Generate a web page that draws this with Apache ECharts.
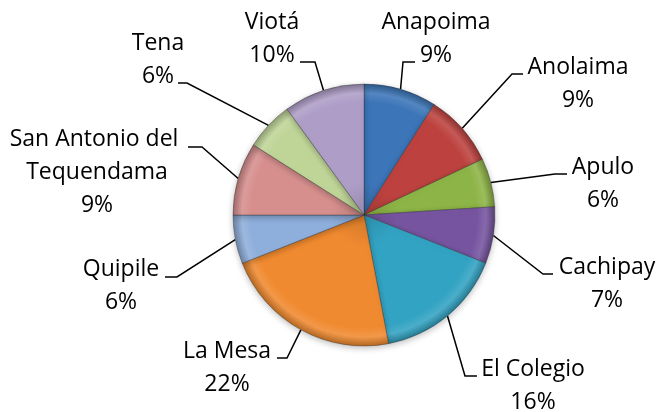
<!DOCTYPE html>
<html>
<head>
<meta charset="utf-8">
<script src="https://cdn.jsdelivr.net/npm/echarts@6/dist/echarts.min.js"></script>
<style>
html,body{margin:0;padding:0;background:#fff;}
#chart{width:656px;height:412px;}
</style>
</head>
<body>
<div id="chart"></div>
<script>
// ---- data ----
var categories = ['Anapoima', 'Anolaima', 'Apulo', 'Cachipay', 'El Colegio', 'La Mesa', 'Quipile', 'San Antonio del Tequendama', 'Tena', 'Viotá'];
var percents = [9, 9, 6, 7, 16, 22, 6, 9, 6, 10];

// ---- styles / layout ----
var sliceColors = ['#3C75B8', '#BD423F', '#8DB446', '#7654A0', '#33A3C3', '#F08A30', '#8EAEDB', '#D68F8D', '#BFD598', '#AE9DC7'];
var PIE_CX = 364, PIE_CY = 215, PIE_R = 131;
// label block centre (tx,ty), leader bend (bx,by) and leader end (ex,ey)
var labelPlacement = [
  {tx: 436, ty: 39,  bx: 403, by: 62,  ex: 415, ey: 62},
  {tx: 578, ty: 84,  bx: 512, by: 74,  ex: 523, ey: 74},
  {tx: 603, ty: 184, bx: 555, by: 174, ex: 567, ey: 174},
  {tx: 607, ty: 284, bx: 543, by: 274, ex: 553, ey: 274},
  {tx: 533, ty: 386, bx: 465, by: 376, ex: 477, ey: 376},
  {tx: 227, ty: 368, bx: 287, by: 358, ex: 277, ey: 358},
  {tx: 121, ty: 286, bx: 177, by: 277, ex: 165, ey: 277},
  {tx: 97,  ty: 172, bx: 202, by: 147, ex: 188, ey: 147},
  {tx: 158, ty: 60,  bx: 187, by: 83,  ex: 178, ey: 83},
  {tx: 272, ty: 39,  bx: 315, by: 62,  ex: 300, ey: 62}
];

function shade(hex, amt) {
  var n = parseInt(hex.slice(1), 16);
  var r = (n >> 16) & 255, g = (n >> 8) & 255, b = n & 255;
  function f(c) {
    return Math.max(0, Math.min(255, Math.round(amt >= 0 ? c + (255 - c) * amt : c * (1 + amt))));
  }
  return 'rgb(' + f(r) + ',' + f(g) + ',' + f(b) + ')';
}

var pieData = categories.map(function (name, i) {
  var c = sliceColors[i];
  return {
    name: name,
    value: percents[i],
    itemStyle: {
      color: {
        type: 'radial', x: PIE_CX, y: PIE_CY, r: PIE_R, global: true,
        colorStops: [
          {offset: 0, color: shade(c, -0.12)},
          {offset: 0.25, color: c},
          {offset: 0.86, color: c},
          {offset: 0.93, color: shade(c, 0.12)},
          {offset: 1, color: shade(c, -0.25)}
        ]
      }
    }
  };
});

var chart = echarts.init(document.getElementById('chart'), null, {renderer: 'canvas'});
chart.setOption({
  backgroundColor: '#ffffff',
  animation: false,
  series: [{
    type: 'pie',
    center: [PIE_CX, PIE_CY],
    radius: PIE_R,
    startAngle: 90,
    clockwise: true,
    percentPrecision: 0,
    data: pieData,
    itemStyle: {
      borderColor: 'rgba(40,40,40,0.35)',
      borderWidth: 1,
      shadowBlur: 6,
      shadowColor: 'rgba(0,0,0,0.25)',
      shadowOffsetY: 2
    },
    label: {
      show: true,
      position: 'outside',
      formatter: '{b}\n{d}%',
      fontFamily: '"Open Sans", sans-serif',
      fontSize: 23,
      lineHeight: 33,
      color: '#000',
      width: 185,
      overflow: 'break',
      align: 'center'
    },
    labelLine: {
      show: true,
      length: 15,
      length2: 10,
      smooth: false,
      lineStyle: {color: '#000', width: 1.5}
    },
    labelLayout: function (p) {
      var L = labelPlacement[p.dataIndex];
      var s = p.labelLinePoints && p.labelLinePoints[0];
      var out = {x: L.tx, y: L.ty, align: 'center', verticalAlign: 'middle'};
      if (s) {
        out.labelLinePoints = [s, [L.bx, L.by], [L.ex, L.ey]];
      }
      return out;
    },
    emphasis: {disabled: true}
  }]
});
</script>
</body>
</html>
